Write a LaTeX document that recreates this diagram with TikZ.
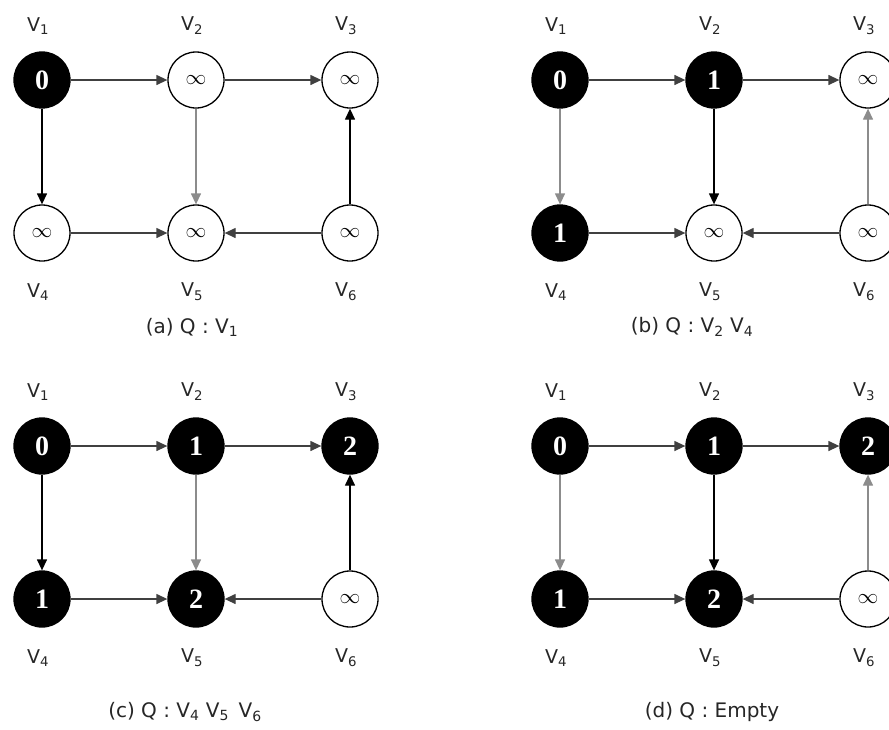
\documentclass[tikz,border=0pt]{standalone}
\usepackage{fontspec}
\setmainfont{DejaVu Sans}
\newfontfamily\numfont{Liberation Serif}
\usetikzlibrary{arrows.meta}
\tikzset{
 vtx/.style={circle, draw=black, line width=1.3pt, minimum size=56pt, inner sep=0pt, fill=white},
 vdone/.style={vtx, fill=black, text=white, font=\numfont\bfseries\fontsize{28}{28}\selectfont},
 vopen/.style={vtx, font=\fontsize{21}{21}\selectfont},
 lbl/.style={font=\fontsize{19}{19}\selectfont, inner sep=0pt, text=black!85},
 captext/.style={font=\fontsize{20}{20}\selectfont, inner sep=0pt, text=black!85},
 edge/.style={-{Triangle[length=11pt,width=10pt]}, line width=1.3pt},
 hedge/.style={edge, draw=black!75},
}
\newcommand\paneledges[3]{%
 \draw[hedge] (#1v1) -- (#1v2);
 \draw[hedge] (#1v2) -- (#1v3);
 \draw[edge, draw=#2] (#1v1) -- (#1v4);
 \draw[edge, draw=#3] (#1v2) -- (#1v5);
 \draw[hedge] (#1v4) -- (#1v5);
 \draw[hedge] (#1v6) -- (#1v5);
 \draw[edge, draw=#2] (#1v6) -- (#1v3);
}
\newcommand\panellabels[1]{%
 \node[lbl] (#1l1) at (38,26) {V\textsubscript{1}};
 \node[lbl] (#1l2) at (192,26) {V\textsubscript{2}};
 \node[lbl] (#1l3) at (346,26) {V\textsubscript{3}};
 \node[lbl] (#1l4) at (38,292) {V\textsubscript{4}};
 \node[lbl] (#1l5) at (192,292) {V\textsubscript{5}};
 \node[lbl] (#1l6) at (346,292) {V\textsubscript{6}};
}
\begin{document}
\begin{tikzpicture}[x=1pt,y=-1pt]
\useasboundingbox (0,0) rectangle (889,729);

% (a)
\begin{scope}
 \node[vdone] (av1) at (42,80) {0};
 \node[vopen] (av2) at (196,80) {$\infty$};
 \node[vopen] (av3) at (350,80) {$\infty$};
 \node[vopen] (av4) at (42,233) {$\infty$};
 \node[vopen] (av5) at (196,233) {$\infty$};
 \node[vopen] (av6) at (350,233) {$\infty$};
 \paneledges{a}{black}{black!45}
 \panellabels{a}
\end{scope}

% (b)
\begin{scope}[shift={(518,0)}]
 \node[vdone] (bv1) at (42,80) {0};
 \node[vdone] (bv2) at (196,80) {1};
 \node[vopen] (bv3) at (350,80) {$\infty$};
 \node[vdone] (bv4) at (42,233) {1};
 \node[vopen] (bv5) at (196,233) {$\infty$};
 \node[vopen] (bv6) at (350,233) {$\infty$};
 \paneledges{b}{black!45}{black}
 \panellabels{b}
\end{scope}

% (c)
\begin{scope}[shift={(0,366)}]
 \node[vdone] (cv1) at (42,80) {0};
 \node[vdone] (cv2) at (196,80) {1};
 \node[vdone] (cv3) at (350,80) {2};
 \node[vdone] (cv4) at (42,233) {1};
 \node[vdone] (cv5) at (196,233) {2};
 \node[vopen] (cv6) at (350,233) {$\infty$};
 \paneledges{c}{black}{black!45}
 \panellabels{c}
\end{scope}

% (d)
\begin{scope}[shift={(518,366)}]
 \node[vdone] (dv1) at (42,80) {0};
 \node[vdone] (dv2) at (196,80) {1};
 \node[vdone] (dv3) at (350,80) {2};
 \node[vdone] (dv4) at (42,233) {1};
 \node[vdone] (dv5) at (196,233) {2};
 \node[vopen] (dv6) at (350,233) {$\infty$};
 \paneledges{d}{black!45}{black}
 \panellabels{d}
\end{scope}

\node[captext] (capa) at (192,327) {(a) Q : V\textsubscript{1}};
\node[captext] (capb) at (692,327) {(b) Q : V\textsubscript{2} V\textsubscript{4}};
\node[captext] (capc) at (185,712) {(c) Q : V\textsubscript{4} V\textsubscript{5}\, V\textsubscript{6}};
\node[captext] (capd) at (712,712) {(d) Q : Empty};
\end{tikzpicture}
\end{document}
